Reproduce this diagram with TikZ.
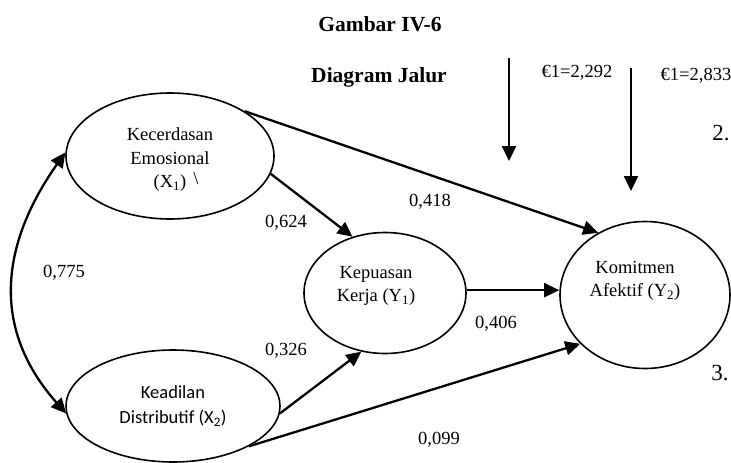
\documentclass[tikz,border=0pt]{standalone}
\usepackage{fontspec}
\setmainfont{Liberation Serif}
\newfontfamily\carlito{Carlito}
\usetikzlibrary{arrows.meta,shapes.geometric}
\begin{document}
\begin{tikzpicture}[x=1pt,y=-1pt,
  ell/.style={draw, ellipse, line width=1.6pt, inner sep=0pt},
  arr/.style={line width=2.3pt, -{Triangle[length=15pt,width=14pt]}},
  dbl/.style={line width=2.3pt, {Triangle[length=15pt,width=14pt]}-{Triangle[length=15pt,width=14pt]}},
  lbl/.style={font=\fontsize{18.5}{22}\selectfont, inner sep=0pt, anchor=base},
  big/.style={font=\fontsize{23}{27}\selectfont, inner sep=0pt, anchor=base},
  head/.style={font=\fontsize{21.5}{25}\selectfont\bfseries, inner sep=0pt, anchor=base},
  etxt/.style={font=\fontsize{18.5}{23.5}\selectfont, align=center, inner sep=0pt},
  ctxt/.style={font=\carlito\fontsize{18.5}{25}\selectfont, align=center, inner sep=0pt},
]
\useasboundingbox[fill=white] (0,0) rectangle (731,463);

% ellipses
\node[ell, minimum width=208pt, minimum height=126pt] (X1) at (170,156) {};
\node[ell, minimum width=214pt, minimum height=112pt] (X2) at (173,406) {};
\node[ell, minimum width=162pt, minimum height=121pt] (Y1) at (385,293) {};
\node[ell, minimum width=170pt, minimum height=147pt] (Y2) at (645,295) {};

% ellipse texts
\node[etxt] (tX1) at (170,160) {Kecerdasan\\Emosional\\(X\textsubscript{1})};
\node[etxt] (tY1) at (376,286) {Kepuasan\\Kerja (Y\textsubscript{1})};
\node[etxt] (tY2) at (635,281) {Komitmen\\Afektif (Y\textsubscript{2})};
\node[ctxt] (tX2) at (173,406) {Keadilan\\Distributif (X\textsubscript{2})};
\node[lbl] (bs) at (196,184) {\textbackslash};

% headings
\node[head] (h1) at (380,31) {Gambar IV-6};
\node[head] (h2) at (379,82) {Diagram Jalur};

% error terms
\node[lbl] (e1) at (577,77) {€1=2,292};
\node[lbl] (e2) at (696,80) {€1=2,833};
\node[big] (n2) at (721,140) {2.};
\node[big] (n3) at (720,380) {3.};

% coefficients
\node[lbl] (c418) at (430,206) {0,418};
\node[lbl] (c624) at (286,227) {0,624};
\node[lbl] (c775) at (64,277) {0,775};
\node[lbl] (c326) at (286,355) {0,326};
\node[lbl] (c406) at (496,328) {0,406};
\node[lbl] (c099) at (439,444) {0,099};

% connectors
\draw[arr] (X1.31) -- (Y2.127);
\draw[arr] (X1.-10) -- (Y1.120);
\draw[arr] (Y1.2) -- (Y1.2 -| Y2.west);
\draw[arr] (X2.-4) -- (Y1.248);
\draw[arr] (X2.-28) -- (Y2.217);
\draw[dbl] (X1.178) .. controls +(-62,88) and +(-78,-88) .. (X2.184);

% vertical arrows
\coordinate (a1s) at (509,58);
\coordinate (a1e) at (509,161);
\coordinate (a2s) at (631,68);
\coordinate (a2e) at (631,191);
\draw[arr] (a1s) -- (a1e);
\draw[arr] (a2s) -- (a2e);
\end{tikzpicture}
\end{document}
